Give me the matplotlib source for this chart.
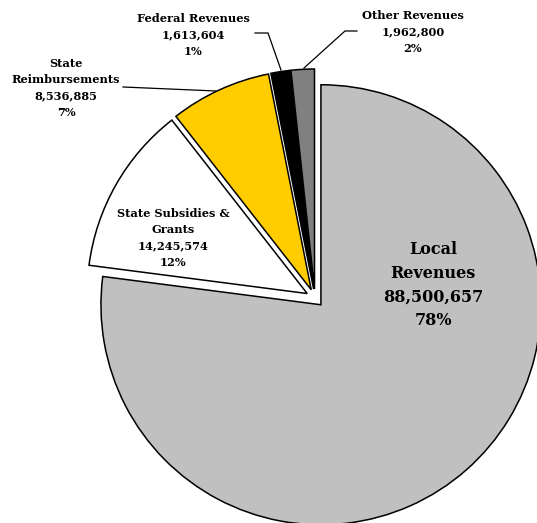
import matplotlib
matplotlib.use("Agg")
import matplotlib.pyplot as plt

# revenue sources, clockwise from 12 o'clock
sources = ["Local\nRevenues", "State Subsidies &\nGrants", "State\nReimbursements",
           "Federal Revenues", "Other Revenues"]
amounts = [88500657, 14245574, 8536885, 1613604, 1962800]
pct_labels = ["78%", "12%", "7%", "1%", "2%"]
colors = ["#C0C0C0", "#FFFFFF", "#FFCC00", "#000000", "#808080"]

W, H = 537, 523
fig = plt.figure(figsize=(W / 100, H / 100), dpi=100)
ax = fig.add_axes([0, 0, 1, 1])

# y axis is inverted below, so counterclock in data = clockwise on screen
ax.pie(amounts, colors=colors, startangle=-90, counterclock=True,
       center=(315, 298), radius=220, explode=[9] * len(amounts),
       wedgeprops=dict(edgecolor="black", linewidth=1.1), frame=True)
ax.set_xlim(0, W)
ax.set_ylim(H, 0)  # pixel-like coordinates, y down
ax.set_aspect("equal")
ax.axis("off")

font = dict(family="DejaVu Serif", weight="bold", color="black",
            ha="center", va="center")

def label(i, x, y, size, spacing):
    txt = f"{sources[i]}\n{amounts[i]:,}\n{pct_labels[i]}"
    ax.text(x, y, txt, fontsize=size, linespacing=spacing, **font)

label(0, 433, 285, 11.5, 1.5)
label(1, 173, 238, 8.2, 1.62)
label(2, 66, 88, 8.2, 1.62)
label(3, 193, 35, 8.2, 1.62)
label(4, 413, 32, 8.2, 1.62)

# leader lines
line = dict(color="black", linewidth=0.9)
ax.plot([255, 268, 281], [33, 33, 70], **line)
ax.plot([123, 216], [87, 91], **line)
ax.plot([357, 345, 304], [31, 31, 68], **line)

fig.savefig("out.png", dpi=100)
